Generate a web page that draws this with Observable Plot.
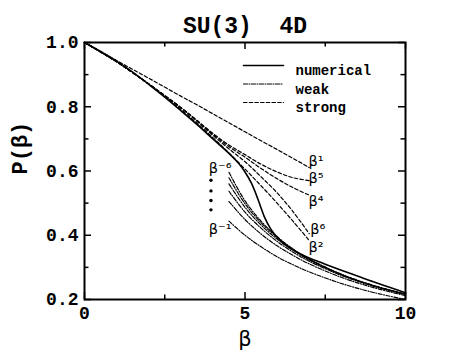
<!DOCTYPE html>
<html>
<head>
<meta charset="utf-8">
<script src="https://cdn.jsdelivr.net/npm/d3@7"></script>
<script src="https://cdn.jsdelivr.net/npm/@observablehq/plot@0.6"></script>
<style>
  html, body { margin: 0; padding: 0; background: #fff; }
</style>
</head>
<body>
<div id="chart"></div>
<script>
// ---- data ----
const numBeta = [0, 0.5, 1, 1.5, 2, 2.5, 3, 3.5, 4, 4.5, 4.8, 5.0, 5.2, 5.4, 5.5, 5.6, 5.8, 6.0, 6.3, 6.7, 7.0, 7.5, 8.0, 8.5, 9.0, 9.5, 10];
const numP    = [1.0, 0.972, 0.942, 0.908, 0.870, 0.830, 0.788, 0.745, 0.700, 0.655, 0.624, 0.597, 0.562, 0.513, 0.485, 0.458, 0.420, 0.394, 0.367, 0.343, 0.329, 0.310, 0.291, 0.273, 0.255, 0.238, 0.221];

const weakBeta = [4.5, 5, 5.5, 6, 6.5, 7, 8, 9, 10];
const weak1 = [0.444, 0.400, 0.364, 0.333, 0.308, 0.286, 0.250, 0.222, 0.200];
const weak2 = [0.505, 0.449, 0.404, 0.367, 0.337, 0.311, 0.269, 0.237, 0.212];
const weak3 = [0.537, 0.472, 0.422, 0.381, 0.347, 0.319, 0.275, 0.241, 0.215];
const weak4 = [0.560, 0.487, 0.432, 0.388, 0.353, 0.323, 0.277, 0.243, 0.216];
const weak5 = [0.579, 0.498, 0.439, 0.393, 0.356, 0.325, 0.278, 0.243, 0.217];
const weak6 = [0.596, 0.507, 0.444, 0.396, 0.357, 0.326, 0.279, 0.244, 0.217];

const strongBeta = [0, 1, 2, 3, 3.5, 4, 4.5, 5, 5.5, 6, 6.5, 7];
const strong1 = [1.0, 0.944, 0.889, 0.833, 0.806, 0.778, 0.750, 0.722, 0.694, 0.667, 0.639, 0.611];
const strong2 = [1.0, 0.940, 0.870, 0.792, 0.749, 0.704, 0.656, 0.606, 0.554, 0.500, 0.443, 0.384];
const strong4 = [1.0, 0.940, 0.871, 0.797, 0.757, 0.714, 0.676, 0.643, 0.608, 0.576, 0.548, 0.525];
const strong5 = [1.0, 0.940, 0.871, 0.798, 0.758, 0.717, 0.681, 0.651, 0.621, 0.597, 0.579, 0.570];
const strong6 = [1.0, 0.940, 0.871, 0.797, 0.755, 0.711, 0.669, 0.629, 0.582, 0.532, 0.473, 0.405];

const labelText = ["β¹", "β⁵", "β⁴", "β⁶", "β²", "β⁻⁶", "β⁻¹"];
const labelBeta = [6.98, 6.98, 6.98, 7.03, 6.98, 3.87, 3.87];
const labelP    = [0.630, 0.577, 0.504, 0.418, 0.362, 0.608, 0.418];

const dotBeta = [3.94, 3.94, 3.94, 3.94];
const dotP    = [0.571, 0.538, 0.508, 0.479];

const xMajor = [0, 5, 10];
const xMinor = [2.5, 7.5];
const yMajor = [0.2, 0.4, 0.6, 0.8, 1.0];
const yMinor = [0.3, 0.5, 0.7, 0.9];

const legendLabels = ["numerical", "weak", "strong"];
const title = "SU(3)\u00a0\u00a04D";
const yLabel = "P(β)";
const xLabel = "β";

// ---- layout & styles ----
const W = 471, H = 360, ML = 84, MR = 66, MT = 42, MB = 61;
const PW = W - ML - MR, PH = H - MT - MB;
const MAJOR = 7, MINOR = 4.5;
const MONO = "'Liberation Mono', 'DejaVu Sans Mono', monospace";
const SANS = "'DejaVu Sans', sans-serif";
const DASH_STRONG = "3.5,2.2";
const DASH_WEAK = "4,1.5,1,1.5";
const legendDash = [null, DASH_WEAK, DASH_STRONG];
const legendWidth = [1.6, 1.2, 1.2];

const idx = (a) => a.map((_, i) => i);
const lineShape = { draw(context, l) { context.moveTo(0, 0); context.lineTo(0, -l); } };

const marks = [];

// strong-coupling series (dashed)
for (const s of [strong1, strong2, strong4, strong5, strong6]) {
  marks.push(Plot.line(idx(strongBeta), {
    x: i => strongBeta[i], y: i => s[i],
    stroke: "black", strokeWidth: 1.2, strokeDasharray: DASH_STRONG, curve: "catmull-rom"
  }));
}
// weak-coupling series (dash-dot)
for (const w of [weak1, weak2, weak3, weak4, weak5, weak6]) {
  marks.push(Plot.line(idx(weakBeta), {
    x: i => weakBeta[i], y: i => w[i],
    stroke: "black", strokeWidth: 1.15, strokeDasharray: DASH_WEAK, curve: "catmull-rom"
  }));
}
// numerical (solid)
marks.push(Plot.line(idx(numBeta), {
  x: i => numBeta[i], y: i => numP[i],
  stroke: "black", strokeWidth: 1.6, curve: "catmull-rom"
}));

// series labels
marks.push(Plot.text(idx(labelText), {
  x: i => labelBeta[i], y: i => labelP[i], text: i => labelText[i],
  textAnchor: "start", fontSize: 14.5, fontFamily: SANS, fill: "black"
}));
marks.push(Plot.dot(idx(dotBeta), {
  x: i => dotBeta[i], y: i => dotP[i], r: 1.7, fill: "black", stroke: null
}));

// frame and inward ticks on all four sides
marks.push(Plot.frame({ stroke: "black", strokeWidth: 2 }));
for (const [ticks, len] of [[xMajor, MAJOR], [xMinor, MINOR]]) {
  marks.push(Plot.tickX(ticks, { x: d => d, insetTop: PH - len, stroke: "black", strokeWidth: 1.5 }));
  marks.push(Plot.tickX(ticks, { x: d => d, insetBottom: PH - len, stroke: "black", strokeWidth: 1.5 }));
}
for (const [ticks, len] of [[yMajor, MAJOR], [yMinor, MINOR]]) {
  marks.push(Plot.tickY(ticks, { y: d => d, insetRight: PW - len, stroke: "black", strokeWidth: 1.5 }));
  marks.push(Plot.tickY(ticks, { y: d => d, insetLeft: PW - len, stroke: "black", strokeWidth: 1.5 }));
}
// tick labels
marks.push(Plot.axisX(xMajor, {
  anchor: "bottom", tickSize: 0, tickPadding: 7, tickFormat: d => String(d), label: null,
  fontSize: 18, fontWeight: "bold", fontFamily: MONO, fill: "black"
}));
marks.push(Plot.axisY(yMajor, {
  anchor: "left", tickSize: 0, tickPadding: 6, tickFormat: d => d.toFixed(1), label: null,
  fontSize: 18, fontWeight: "bold", fontFamily: MONO, fill: "black"
}));

// titles
marks.push(Plot.text([title], {
  text: d => d, frameAnchor: "top", lineAnchor: "bottom", dy: -10,
  fontSize: 23, fontWeight: "bold", fontFamily: MONO, fill: "black"
}));
marks.push(Plot.text([yLabel], {
  text: d => d, frameAnchor: "left", rotate: -90, dx: -65, dy: 3.5,
  fontSize: 22, fontWeight: "bold", fontFamily: MONO, fill: "black"
}));
marks.push(Plot.text([xLabel], {
  text: d => d, frameAnchor: "bottom", lineAnchor: "bottom", dy: 46,
  fontSize: 21, fontFamily: SANS, fill: "black"
}));

// legend (inside, top right)
legendLabels.forEach((name, i) => {
  const dy = 23 + i * 18.5;
  marks.push(Plot.vector([name], {
    frameAnchor: "top-left", dx: 159, dy, length: 40, rotate: 90, anchor: "start",
    shape: lineShape, stroke: "black", strokeWidth: legendWidth[i],
    strokeDasharray: legendDash[i]
  }));
  marks.push(Plot.text([name], {
    text: d => d, frameAnchor: "top-left", dx: 211, dy, textAnchor: "start",
    fontSize: 14, fontWeight: "bold", fontFamily: MONO, fill: "black"
  }));
});

const chart = Plot.plot({
  width: W,
  height: H,
  marginLeft: ML,
  marginRight: MR,
  marginTop: MT,
  marginBottom: MB,
  x: { domain: [0, 10] },
  y: { domain: [0.2, 1.0] },
  style: { background: "white", color: "black", overflow: "visible" },
  marks
});
document.getElementById("chart").appendChild(chart);
</script>
</body>
</html>
